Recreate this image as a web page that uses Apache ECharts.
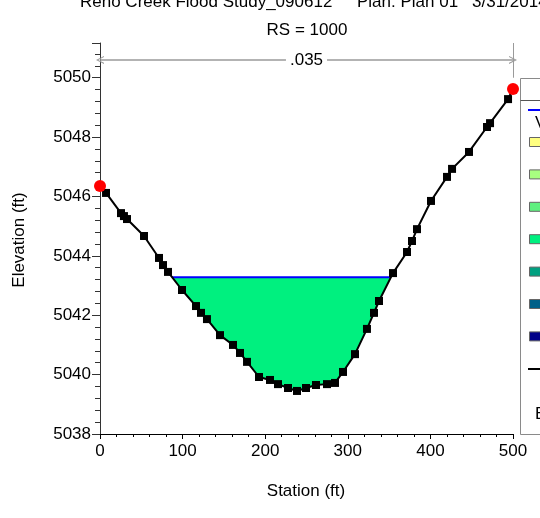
<!DOCTYPE html>
<html>
<head>
<meta charset="utf-8">
<script src="https://cdn.jsdelivr.net/npm/echarts@6/dist/echarts.min.js"></script>
<style>html,body{margin:0;padding:0;background:#fff}#c{width:540px;height:518px}</style>
</head>
<body>
<div id="c"></div>
<script>
// ---- data ----
const stations = [0, 7.3, 25.4, 29, 32.7, 53.3, 71.4, 76.3, 82.3, 99.3, 116.2, 122.3, 129.5, 145.3, 161, 169.5, 178, 192.5, 205.8, 215.5, 227.6, 238.5, 249.4, 261.5, 274.8, 284.5, 294.2, 308.7, 323.2, 331.7, 337.8, 354.7, 371.7, 377.7, 383.8, 400.7, 420.1, 426.2, 446.7, 468.5, 472.2, 494, 500];
const elevations = [5046.35, 5046.12, 5045.44, 5045.34, 5045.24, 5044.67, 5043.93, 5043.69, 5043.46, 5042.85, 5042.31, 5042.08, 5041.87, 5041.33, 5041.0, 5040.73, 5040.43, 5039.92, 5039.82, 5039.68, 5039.55, 5039.45, 5039.55, 5039.65, 5039.68, 5039.72, 5040.09, 5040.69, 5041.54, 5042.08, 5042.48, 5043.42, 5044.13, 5044.5, 5044.9, 5045.85, 5046.66, 5046.93, 5047.5, 5048.34, 5048.47, 5049.28, 5049.62];
const bankStations = [0, 500];
const bankElevations = [5046.35, 5049.62];
const wsElevation = 5043.28;
const nValueLabel = '.035';
const nValueElevation = 5050.6;
const xTicks = [0, 100, 200, 300, 400, 500];
const yTicks = [5038, 5040, 5042, 5044, 5046, 5048, 5050];
const legendItems = ['WS PF 1', 'Vel Total (ft/s)', '0.0-0.5', '0.5-1.0', '1.0-1.5', '1.5-2.0', '2.0-2.5', '2.5-3.0', '3.0-3.5', 'Ground', 'Bank Sta'];
const titleParts = ['Reno Creek Flood Study_090612', 'Plan: Plan 01', '3/31/2014'];
const subtitle = 'RS = 1000';
const xAxisTitle = 'Station (ft)';
const yAxisTitle = 'Elevation (ft)';

// ---- styles ----
const velColors = ['#ffff80', '#a8ff80', '#60f080', '#00f080', '#00a080', '#006088', '#000088'];
const FONT = 'Liberation Sans, Arial, sans-serif';

// ---- derived ----
const ground = stations.map((s, i) => [s, elevations[i]]);
function crossings(ws) {
  let left = null, right = null;
  for (let i = 0; i < ground.length - 1; i++) {
    const [x0, y0] = ground[i], [x1, y1] = ground[i + 1];
    if (y0 >= ws && y1 < ws && left === null) left = x0 + (ws - y0) / (y1 - y0) * (x1 - x0);
    if (y0 < ws && y1 >= ws) right = x0 + (ws - y0) / (y1 - y0) * (x1 - x0);
  }
  return [left, right];
}
const [wsL, wsR] = crossings(wsElevation);
const waterPoly = [[wsL, wsElevation]].concat(ground.filter(p => p[0] > wsL && p[0] < wsR)).concat([[wsR, wsElevation]]);
const groundData = ground.map(p => bankStations.indexOf(p[0]) >= 0 ? {value: p, symbol: 'none'} : {value: p});

const chart = echarts.init(document.getElementById('c'), null, {renderer: 'canvas'});
const chevron = 'path://M0,10 L5,0 L10,10 L8.6,10 L5,2.8 L1.4,10 Z';

const legendGraphics = [];
const LX = 520.5, LY = 78.5;
legendGraphics.push({type: 'rect', shape: {x: LX, y: LY, width: 40, height: 356}, style: {fill: '#fff', stroke: '#8a8a8a', lineWidth: 1}, z: 10});
legendGraphics.push({type: 'line', shape: {x1: LX, y1: 100.5, x2: 545, y2: 100.5}, style: {stroke: '#555', lineWidth: 1}, z: 11});
legendGraphics.push({type: 'line', shape: {x1: 528, y1: 110, x2: 548, y2: 110}, style: {stroke: '#0000ff', lineWidth: 2}, z: 11});
legendGraphics.push({type: 'text', x: 535, y: 123, style: {text: legendItems[1], font: '17px ' + FONT, fill: '#000', verticalAlign: 'middle'}, z: 11});
velColors.forEach((c, i) => {
  legendGraphics.push({type: 'rect', shape: {x: 529.5, y: 137.5 + i * 32.4, width: 12, height: 9}, style: {fill: c, stroke: '#666', lineWidth: 1}, z: 11});
});
legendGraphics.push({type: 'line', shape: {x1: 528, y1: 369, x2: 548, y2: 369}, style: {stroke: '#000', lineWidth: 2}, z: 11});
legendGraphics.push({type: 'text', x: 535, y: 414, style: {text: legendItems[10], font: '17px ' + FONT, fill: '#000', verticalAlign: 'middle'}, z: 11});

const textGraphics = [
  {type: 'text', x: 80, y: 2, style: {text: titleParts[0], font: '17px ' + FONT, fill: '#000', verticalAlign: 'middle'}},
  {type: 'text', x: 357, y: 2, style: {text: titleParts[1], font: '17px ' + FONT, fill: '#000', verticalAlign: 'middle'}},
  {type: 'text', x: 472, y: 2, style: {text: titleParts[2], font: '17px ' + FONT, fill: '#000', verticalAlign: 'middle'}},
  {type: 'text', x: 307, y: 30, style: {text: subtitle, font: '17px ' + FONT, fill: '#000', align: 'center', verticalAlign: 'middle'}},
  {type: 'text', x: 306, y: 491, style: {text: xAxisTitle, font: '17px ' + FONT, fill: '#000', align: 'center', verticalAlign: 'middle'}},
  {type: 'text', x: 19, y: 240, rotation: Math.PI / 2, style: {text: yAxisTitle, font: '17px ' + FONT, fill: '#000', align: 'center', verticalAlign: 'middle'}}
];

const option = {
  animation: false,
  backgroundColor: '#fff',
  grid: {left: 100, right: 27, top: 43, bottom: 84, containLabel: false},
  xAxis: {
    type: 'value', min: xTicks[0], max: xTicks[xTicks.length - 1], interval: 100,
    axisLine: {lineStyle: {color: '#000', width: 1}},
    axisTick: {show: true, length: 5, lineStyle: {color: '#000'}},
    minorTick: {show: true, splitNumber: 5, length: 3, lineStyle: {color: '#000'}},
    splitLine: {show: false},
    axisLabel: {color: '#000', fontSize: 17, fontFamily: FONT, margin: 9}
  },
  yAxis: {
    type: 'value', min: yTicks[0], max: 5051.17, interval: 2,
    axisLine: {show: true, lineStyle: {color: '#333', width: 1}},
    axisTick: {show: true, length: 8, lineStyle: {color: '#333'}},
    minorTick: {show: true, splitNumber: 5, length: 5, lineStyle: {color: '#333'}},
    splitLine: {show: false},
    axisLabel: {color: '#000', fontSize: 17, fontFamily: FONT, margin: 9, showMaxLabel: false,
      formatter: v => (yTicks.indexOf(v) >= 0 ? String(v) : '')}
  },
  series: [
    {
      type: 'custom', name: 'water', z: 1, silent: true,
      data: [0],
      renderItem: function (params, api) {
        const pts = waterPoly.map(p => api.coord(p));
        return {type: 'polygon', shape: {points: pts}, style: {fill: '#00f07f', stroke: null}};
      }
    },
    {
      type: 'line', name: legendItems[0], z: 3, symbol: 'none',
      data: [[wsL, wsElevation], [wsR, wsElevation]],
      lineStyle: {color: '#0000ff', width: 2}
    },
    {
      type: 'line', name: legendItems[9], z: 4, symbol: 'rect', symbolSize: 8,
      data: groundData,
      itemStyle: {color: '#000'},
      lineStyle: {color: '#000', width: 2}
    },
    {
      type: 'scatter', name: legendItems[10], z: 5, symbol: 'circle', symbolSize: 12,
      data: bankStations.map((s, i) => [s, bankElevations[i]]),
      itemStyle: {color: '#ff0000', borderWidth: 0, opacity: 1}
    },
    {
      type: 'line', name: 'n', z: 2, data: [], silent: true,
      markLine: {
        silent: true, animation: false,
        symbol: [chevron, chevron], symbolSize: [8, 8],
        lineStyle: {color: '#9a9a9a', width: 1.5, type: 'solid'},
        label: {show: true, position: 'middle', formatter: nValueLabel, color: '#000', fontSize: 17, fontFamily: FONT, backgroundColor: '#fff', padding: [1, 4], distance: 0, verticalAlign: 'middle'},
        emphasis: {disabled: true},
        data: [
          [{coord: [xTicks[0], nValueElevation]}, {coord: [xTicks[xTicks.length - 1], nValueElevation]}],
          [{coord: [xTicks[xTicks.length - 1], 5050.0], symbol: 'none', label: {show: false}, lineStyle: {color: '#9a9a9a', width: 1}}, {coord: [xTicks[xTicks.length - 1], 5051.17], symbol: 'none'}]
        ]
      }
    }
  ],
  graphic: textGraphics.concat(legendGraphics)
};
chart.setOption(option);
</script>
</body>
</html>
